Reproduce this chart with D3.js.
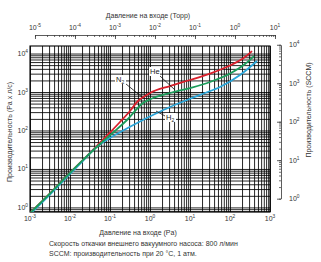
<!DOCTYPE html>
<html>
<head>
<meta charset="utf-8">
<script src="https://cdn.jsdelivr.net/npm/d3@7"></script>
<style>
body { margin: 0; background: #fff; }
svg { display: block; font-family: 'Liberation Sans', Arial, sans-serif; }
</style>
</head>
<body>
<svg id="chart" width="321" height="262"></svg>
<script>
//DATA (Pa, Pa x l/s)
const n2Pa = [0.001, 0.00316, 0.01, 0.0178, 0.0562, 0.1, 0.178, 0.316, 0.5, 0.75, 1, 3.16, 10, 31.6, 100, 237, 355];
const n2Flow = [0.71, 2.3, 7.9, 14.3, 48.5, 89, 166, 321, 584, 787, 942, 1430, 2050, 3020, 4880, 8100, 11600];
const hePa = [0.001, 0.00316, 0.01, 0.0178, 0.0562, 0.133, 0.266, 0.67, 1.12, 3.16, 10, 31.6, 100, 237, 398];
const heFlow = [0.71, 2.3, 7.9, 14.3, 44.6, 97, 187, 518, 678, 942, 1270, 1820, 3020, 5340, 8610];
const h2Pa = [0.001, 0.00316, 0.01, 0.0178, 0.0422, 0.1, 0.237, 0.562, 1.33, 3.16, 8.41, 23.7, 56.2, 178, 473];
const h2Flow = [0.67, 2.16, 7.4, 13.5, 34, 64, 106, 171, 268, 408, 619, 942, 1350, 2760, 6390];

//TICK LABELS (powers of ten)
const paExp = [-3, -2, -1, 0, 1, 2, 3];
const torrExp = [-5, -4, -3, -2, -1, 0, 1];
const flowExp = [0, 1, 2, 3, 4];
const sccmExp = [0, 1, 2, 3, 4];

const PA_PER_TORR = 133.322;
const PAL_PER_SCCM = 1.689;

const svg = d3.select('#chart');
const plot = { left: 30, right: 270, top: 46, bottom: 212 };

const x = d3.scaleLog().domain([1e-3, 1e3]).range([plot.left, plot.right]);
const y = d3.scaleLog().domain([0.76, 1.57e4]).range([plot.bottom, plot.top]);
const xTorr = d3.scaleLog().domain([1e-5, 10]).range([x(1e-5 * PA_PER_TORR), x(10 * PA_PER_TORR)]);
const ySccm = d3.scaleLog().domain([1, 1e4]).range([y(PAL_PER_SCCM), y(1e4 * PAL_PER_SCCM)]);

// all 1..9 x 10^n values inside a domain
const logSteps = (scale) => {
    const [a, b] = scale.domain();
    const out = [];
    for (let e = Math.floor(Math.log10(a)); e <= Math.ceil(Math.log10(b)); e++) {
        for (let m = 1; m < 10; m++) {
            const v = m * Math.pow(10, e);
            if (v >= a * 0.999 && v <= b * 1.001) out.push(v);
        }
    }
    return out;
}

const powLabel = (sel, exp) => {
    sel.append('tspan').text('10');
    sel.append('tspan').attr('dy', -3).attr('font-size', 4.8).text(exp);
}

//GRID
svg.append('g')
    .attr('class', 'grid')
    .attr('transform', `translate(0,${plot.bottom})`)
    .call(d3.axisBottom(x).tickValues(logSteps(x)).tickSize(-(plot.bottom - plot.top)).tickFormat(''))
    .call(g => g.select('.domain').remove());

svg.append('g')
    .attr('class', 'grid')
    .attr('transform', `translate(${plot.left},0)`)
    .call(d3.axisLeft(y).tickValues(logSteps(y)).tickSize(-(plot.right - plot.left)).tickFormat(''))
    .call(g => g.select('.domain').remove());

svg.selectAll('.grid line')
    .attr('stroke', '#000')
    .attr('stroke-width', 0.85);

svg.append('rect')
    .attr('x', plot.left)
    .attr('y', plot.top)
    .attr('width', plot.right - plot.left)
    .attr('height', plot.bottom - plot.top)
    .attr('fill', 'none')
    .attr('stroke', '#000')
    .attr('stroke-width', 1.1);

//CURVES
svg.append('clipPath').attr('id', 'clip')
    .append('rect')
    .attr('x', plot.left)
    .attr('y', plot.top)
    .attr('width', plot.right - plot.left)
    .attr('height', plot.bottom - plot.top);

const line = d3.line()
    .x(d => x(d[0]))
    .y(d => y(d[1]))
    .curve(d3.curveMonotoneX);

const series = [
    { pa: n2Pa, flow: n2Flow, color: '#d9202c' },
    { pa: h2Pa, flow: h2Flow, color: '#2ba6d9' },
    { pa: hePa, flow: heFlow, color: '#1c9c5a' }
];

series.forEach(s => {
    svg.append('path')
        .datum(d3.zip(s.pa, s.flow))
        .attr('clip-path', 'url(#clip)')
        .attr('fill', 'none')
        .attr('stroke', s.color)
        .attr('stroke-width', 1.8)
        .attr('d', line);
});

//CURVE LABELS
const tags = [
    { text: 'N', sub: '2', tx: 116, ty: 82, from: [126, 84], to: [142, 97] },
    { text: 'He', sub: '', tx: 150, ty: 74, from: [160, 76], to: [175, 90] },
    { text: 'H', sub: '2', tx: 166, ty: 120, from: [165, 116], to: [156, 111] }
];

tags.forEach(t => {
    svg.append('line')
        .attr('x1', t.from[0]).attr('y1', t.from[1])
        .attr('x2', t.to[0]).attr('y2', t.to[1])
        .attr('stroke', '#111')
        .attr('stroke-width', 0.8);
    svg.append('rect')
        .attr('x', t.tx - 1)
        .attr('y', t.ty - 7)
        .attr('width', 11)
        .attr('height', 9)
        .attr('fill', '#fff');
    const label = svg.append('text')
        .attr('x', t.tx)
        .attr('y', t.ty)
        .attr('font-size', 7.5)
        .attr('fill', '#222')
        .text(t.text);
    if (t.sub) label.append('tspan').attr('font-size', 5).attr('dy', 1.5).text(t.sub);
});

//BOTTOM AXIS LABELS (Pa)
svg.append('g').selectAll('text')
    .data(paExp)
    .join('text')
    .attr('x', d => x(Math.pow(10, d)))
    .attr('y', 221)
    .attr('text-anchor', 'middle')
    .attr('font-size', 7)
    .attr('fill', '#333')
    .each(function (d) { powLabel(d3.select(this), d); });

//LEFT AXIS LABELS (Pa x l/s)
svg.append('g').selectAll('text')
    .data(flowExp)
    .join('text')
    .attr('x', 28)
    .attr('y', d => y(Math.pow(10, d)) + 2.5)
    .attr('text-anchor', 'end')
    .attr('font-size', 7)
    .attr('fill', '#333')
    .each(function (d) { powLabel(d3.select(this), d); });

//TOP AXIS (Torr)
const topY = 35;
svg.append('g')
    .attr('transform', `translate(0,${topY})`)
    .call(d3.axisBottom(xTorr).tickValues(logSteps(xTorr)).tickSize(2).tickSizeOuter(0).tickFormat(''))
    .call(g => g.selectAll('line').attr('stroke', '#333').attr('stroke-width', 0.7))
    .call(g => g.select('.domain').attr('stroke', '#333').attr('stroke-width', 0.8));
svg.append('g')
    .attr('transform', `translate(0,${topY})`)
    .call(d3.axisBottom(xTorr).tickValues(torrExp.map(e => Math.pow(10, e))).tickSize(4).tickFormat(''))
    .call(g => g.select('.domain').remove())
    .call(g => g.selectAll('line').attr('stroke', '#333').attr('stroke-width', 0.8));

svg.append('g').selectAll('text')
    .data(torrExp)
    .join('text')
    .attr('x', d => xTorr(Math.pow(10, d)))
    .attr('y', 30)
    .attr('text-anchor', 'middle')
    .attr('font-size', 7)
    .attr('fill', '#333')
    .each(function (d) { powLabel(d3.select(this), d); });

//RIGHT AXIS (SCCM)
const rightX = 281;
svg.append('g')
    .attr('transform', `translate(${rightX},0)`)
    .call(d3.axisLeft(ySccm).tickValues(logSteps(ySccm)).tickSize(2).tickSizeOuter(0).tickFormat(''))
    .call(g => g.selectAll('line').attr('stroke', '#333').attr('stroke-width', 0.7))
    .call(g => g.select('.domain').attr('stroke', '#333').attr('stroke-width', 0.8));
svg.append('g')
    .attr('transform', `translate(${rightX},0)`)
    .call(d3.axisLeft(ySccm).tickValues(sccmExp.map(e => Math.pow(10, e))).tickSize(4).tickFormat(''))
    .call(g => g.select('.domain').remove())
    .call(g => g.selectAll('line').attr('stroke', '#333').attr('stroke-width', 0.8));

svg.append('g').selectAll('text')
    .data(sccmExp)
    .join('text')
    .attr('x', 289)
    .attr('y', d => ySccm(Math.pow(10, d)) + 2.5)
    .attr('font-size', 7)
    .attr('fill', '#333')
    .each(function (d) { powLabel(d3.select(this), d); });

//TITLES
const title = (txt, tx, ty, rot, anchor) => svg.append('text')
    .attr('transform', `translate(${tx},${ty}) rotate(${rot})`)
    .attr('text-anchor', anchor)
    .attr('font-size', 7)
    .attr('fill', '#333')
    .text(txt);

title('Давление на входе (Торр)', 148, 18, 0, 'middle');
title('Давление на входе (Pa)', 138, 235, 0, 'middle');
title('Производительность (Pa x л/с)', 12, 132, -90, 'middle');
title('Производительность (SCCM)', 311, 110, -90, 'middle');
title('Скорость откачки внешнего вакуумного насоса: 800 л/мин', 49, 245.5, 0, 'start');
title('SCCM: производительность при 20 °C, 1 атм.', 49, 255.5, 0, 'start');
</script>
</body>
</html>
